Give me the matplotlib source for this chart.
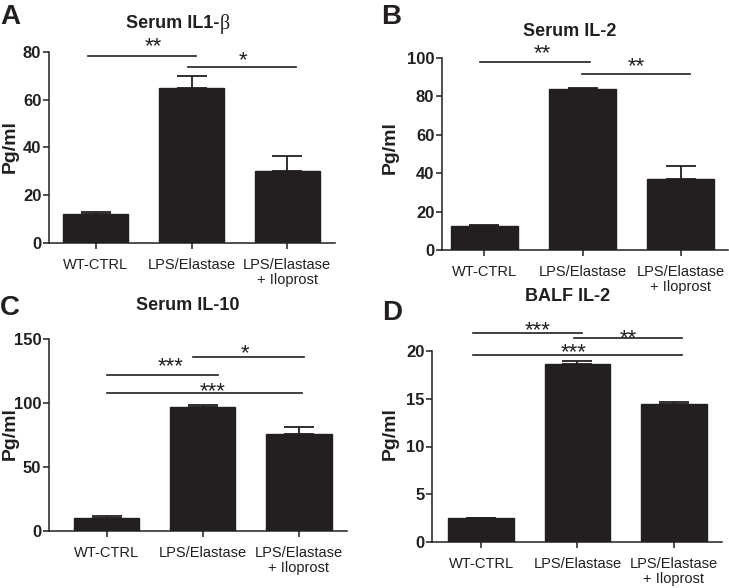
import numpy as np
import matplotlib
matplotlib.use('Agg')
import matplotlib.pyplot as plt

plt.rcParams['font.family'] = ['Liberation Sans', 'DejaVu Sans']

W, H = 729, 588

categories = ['WT-CTRL', 'LPS/Elastase', 'LPS/Elastase\n+ Iloprost']

# means and SEM (upper error only)
il1b_mean = [12, 65, 30]
il1b_err = [1, 5, 6.5]
il2_mean = [12.5, 84, 37]
il2_err = [0.6, 0.5, 7]
il10_mean = [10, 97, 76]
il10_err = [1.5, 1.5, 5]
balf_mean = [2.5, 18.6, 14.4]
balf_err = [0.06, 0.4, 0.3]

# significance bars: (x start, x end, y, label, label x, label y)
il1b_sig = [(-0.08, 1.05, 78.3, '**', 0.6, 85),
            (0.96, 2.09, 73.7, '*', 1.54, 79.4)]
il2_sig = [(-0.04, 1.08, 97.9, '**', 0.59, 105.7),
           (0.99, 2.09, 91.7, '**', 1.55, 99)]
il10_sig = [(0.9, 2.05, 135.7, '*', 1.44, 144),
            (0.0, 1.16, 121.9, '***', 0.67, 133.6),
            (0.0, 2.03, 107.9, '***', 1.1, 114.6)]
balf_sig = [(-0.08, 1.05, 21.9, '***', 0.59, 22.85),
            (0.96, 2.09, 21.4, '**', 1.53, 22.06),
            (-0.08, 2.09, 19.6, '***', 0.96, 20.55)]

bar_color = '#231f20'


def px_axes(fig, left, right, top, bottom):
    return fig.add_axes([left / W, 1 - bottom / H, (right - left) / W, (bottom - top) / H])


def draw_panel(ax, mean, err, sig, ylim, yticks, xlim):
    x = np.arange(len(categories))
    ax.bar(x, mean, width=0.68, color=bar_color, edgecolor=bar_color, zorder=2)
    ax.errorbar(x, mean, yerr=[np.zeros(len(err)), err], fmt='none',
                ecolor=bar_color, elinewidth=1.3, capsize=11, capthick=1.3, zorder=1)
    for x1, x2, y, lab, tx, ty in sig:
        ax.plot([x1, x2], [y, y], color=bar_color, lw=1.2, clip_on=False)
        # ty is the centre of the star glyphs; shift down to the baseline
        ax.annotate(lab, (tx, ty), xytext=(0, -9.0), textcoords='offset points',
                    ha='center', va='baseline', fontsize=16, color=bar_color,
                    annotation_clip=False)
    ax.set_xlim(*xlim)
    ax.set_ylim(*ylim)
    ax.set_yticks(yticks)
    ax.set_xticks(x)
    ax.set_xticklabels(categories, fontsize=10.5, linespacing=1.1)
    for lab in ax.get_yticklabels():
        lab.set_fontweight('bold')
        lab.set_fontsize(12)
    ax.spines['top'].set_visible(False)
    ax.spines['right'].set_visible(False)
    for s in ['left', 'bottom']:
        ax.spines[s].set_linewidth(1.1)
        ax.spines[s].set_color(bar_color)
    ax.tick_params(axis='y', length=4, width=1.1, pad=1.5, colors=bar_color)
    ax.tick_params(axis='x', length=4.5, width=1.1, pad=6, colors=bar_color)


fig = plt.figure(figsize=(W / 100, H / 100), dpi=100)

axA = px_axes(fig, 49, 335, 52, 243)
draw_panel(axA, il1b_mean, il1b_err, il1b_sig, (0, 80), [0, 20, 40, 60, 80], (-0.49, 2.5))
axB = px_axes(fig, 442, 728, 58, 250)
draw_panel(axB, il2_mean, il2_err, il2_sig, (0, 100), [0, 20, 40, 60, 80, 100], (-0.43, 2.48))
axC = px_axes(fig, 49, 347, 339, 531)
draw_panel(axC, il10_mean, il10_err, il10_sig, (0, 150), [0, 50, 100, 150], (-0.6, 2.5))
axD = px_axes(fig, 432, 722, 351, 542)
draw_panel(axD, balf_mean, balf_err, balf_sig, (0, 20), [0, 5, 10, 15, 20], (-0.51, 2.5))


def ftext(x, y, s, **kw):
    return fig.text(x / W, 1 - y / H, s, ha='center', va='center', color=bar_color, **kw)


# panel letters
for (x, y, s) in [(10, 17, 'A'), (391, 17, 'B'), (10, 308, 'C'), (392, 313, 'D')]:
    ftext(x, y, s, fontsize=20, fontweight='bold')

# titles
t = ftext(173, 24, 'Serum IL1-', fontsize=13, fontweight='bold')
fig.canvas.draw()
bb = t.get_window_extent()
fig.text(bb.x1 / W, 1 - 24 / H, 'β', ha='left', va='center', fontsize=14.5,
         family='Liberation Serif', color=bar_color)
ftext(570, 31, 'Serum IL-2', fontsize=13, fontweight='bold')
ftext(188, 306, 'Serum IL-10', fontsize=13, fontweight='bold')
ftext(568, 297, 'BALF IL-2', fontsize=13, fontweight='bold')

# y labels
for (x, y) in [(10, 147), (390, 148), (10, 434), (390, 434)]:
    ftext(x, y, 'Pg/ml', fontsize=14, fontweight='bold', rotation=90)

fig.savefig('out.png', dpi=100)
